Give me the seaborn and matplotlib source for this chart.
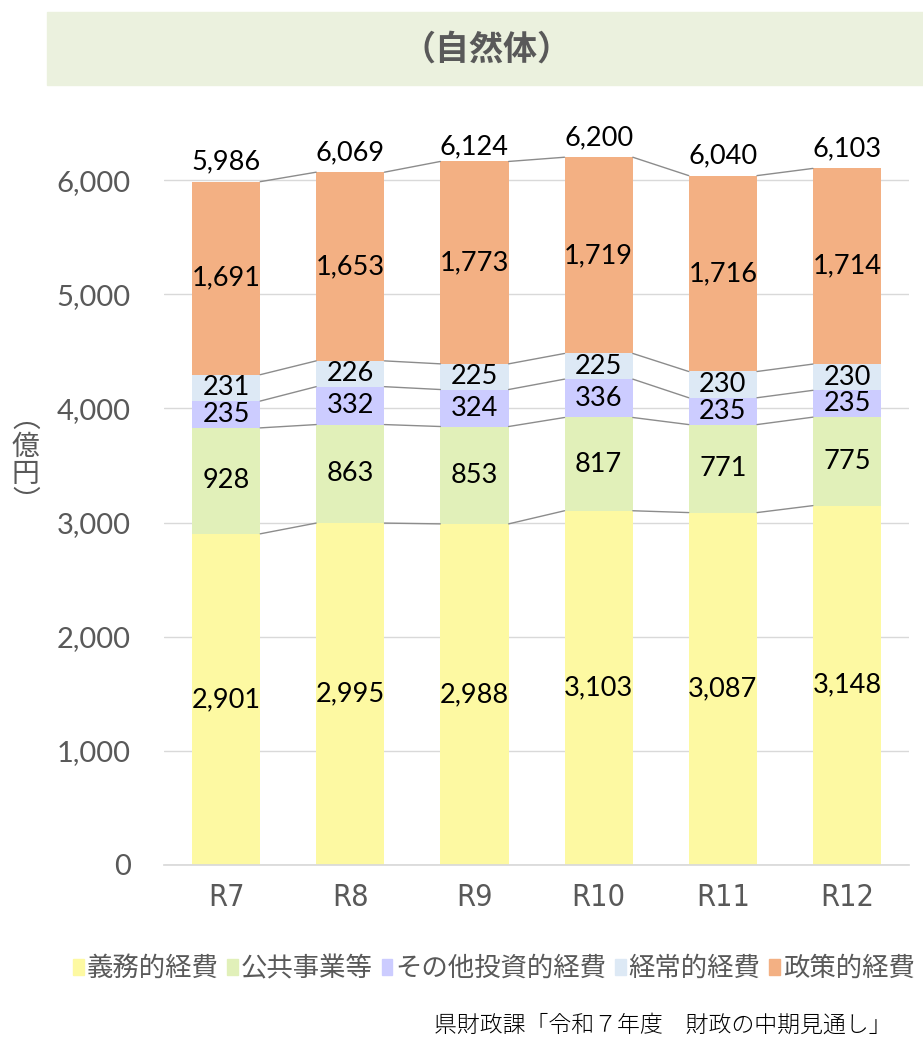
import matplotlib
matplotlib.use("Agg")
import matplotlib.pyplot as plt
import matplotlib.patches as mpatches
import pandas as pd
import seaborn as sns

# data (億円)
years = ["R7", "R8", "R9", "R10", "R11", "R12"]
gimu = [2901, 2995, 2988, 3103, 3087, 3148]
koukyou = [928, 863, 853, 817, 771, 775]
sonota = [235, 332, 324, 336, 235, 235]
keijou = [231, 226, 225, 225, 230, 230]
seisaku = [1691, 1653, 1773, 1719, 1716, 1714]
totals = [5986, 6069, 6124, 6200, 6040, 6103]
series_names = ["義務的経費", "公共事業等", "その他投資的経費", "経常的経費", "政策的経費"]
colors = ["#FDF9A2", "#E1F0B9", "#CCCCFF", "#DDE9F5", "#F3B083"]

df = pd.DataFrame({"year": years, "義務的経費": gimu, "公共事業等": koukyou,
                   "その他投資的経費": sonota, "経常的経費": keijou, "政策的経費": seisaku})

sns.set_theme(style="white")
plt.rcParams["font.family"] = ["Noto Sans CJK JP", "DejaVu Sans"]
num_font = ["Lato", "DejaVu Sans"]

fig = plt.figure(figsize=(9.23, 10.37), dpi=100)
ax = fig.add_axes([0.1777, 0.1659, 0.8073, 0.7155])

bottom = [0] * len(years)
containers = []
for name, col in zip(series_names, colors):
    sns.barplot(data=df, x="year", y=name, bottom=bottom, color=col, width=0.55,
                saturation=1, ax=ax, edgecolor="none")
    containers.append(ax.containers[-1])
    # segment labels
    for rect, v in zip(ax.containers[-1], df[name]):
        ax.text(rect.get_x() + rect.get_width() / 2, rect.get_y() + rect.get_height() / 2,
                f"{v:,}", ha="center", va="center", fontsize=19.5, color="black",
                family=num_font)
    bottom = [b + v for b, v in zip(bottom, df[name])]

# connector lines between bars
for cont in containers:
    rects = list(cont)
    for r1, r2 in zip(rects[:-1], rects[1:]):
        ax.plot([r1.get_x() + r1.get_width(), r2.get_x()],
                [r1.get_y() + r1.get_height(), r2.get_y() + r2.get_height()],
                color="#8C8C8C", lw=1, zorder=1)

# totals above bars
for rect, t in zip(containers[-1], totals):
    ax.text(rect.get_x() + rect.get_width() / 2, t + 60, f"{t:,}", ha="center",
            va="bottom", fontsize=19.5, color="black", family=num_font)

ax.set_ylim(0, 6500)
ax.set_xlim(-0.5, len(years) - 0.5)
ax.set_yticks(range(0, 6001, 1000))
ax.set_yticklabels([f"{v:,}" for v in range(0, 6001, 1000)], family=num_font,
                   fontsize=21, color="#595959")
ax.set_xticks(range(len(years)))
ax.set_xticklabels(years, fontsize=22, color="#595959", family=["DejaVu Sans"],
                   fontstretch="condensed")
ax.tick_params(axis="x", length=0, pad=13)
ax.tick_params(axis="y", length=0, pad=24)
ax.yaxis.grid(True, color="#D9D9D9", lw=1)
ax.set_axisbelow(True)
for s in ["top", "right", "left"]:
    ax.spines[s].set_visible(False)
ax.spines["bottom"].set_color("#D9D9D9")
ax.set_xlabel("")
ax.set_ylabel("")

# y-axis label (vertical text)
fig.text(0.028, 0.556, "︵\n億\n円\n︶", ha="center", va="center", fontsize=20,
         color="#595959", linespacing=0.9)

# title band
fig.patches.append(mpatches.Rectangle((0.051, 0.918), 0.949, 0.070,
                                      transform=fig.transFigure, color="#EBF1DE", zorder=0))
fig.text(0.527, 0.953, "（自然体）", ha="center", va="center", fontsize=24.5,
         fontweight="bold", color="#595959")

# legend
handles = [mpatches.Patch(color=c, label=n) for n, c in zip(series_names, colors)]
fig.legend(handles=handles, loc="center", bbox_to_anchor=(0.535, 0.066), ncol=5,
           frameon=False, fontsize=19, handlelength=0.4, handleheight=0.55,
           handletextpad=0.1, columnspacing=0.35, labelcolor="#595959")

# source
fig.text(0.966, 0.011, "県財政課「令和７年度　財政の中期見通し」", ha="right", va="center",
         fontsize=16.5, color="black", fontweight="light")

fig.savefig("out.png", dpi=100)
